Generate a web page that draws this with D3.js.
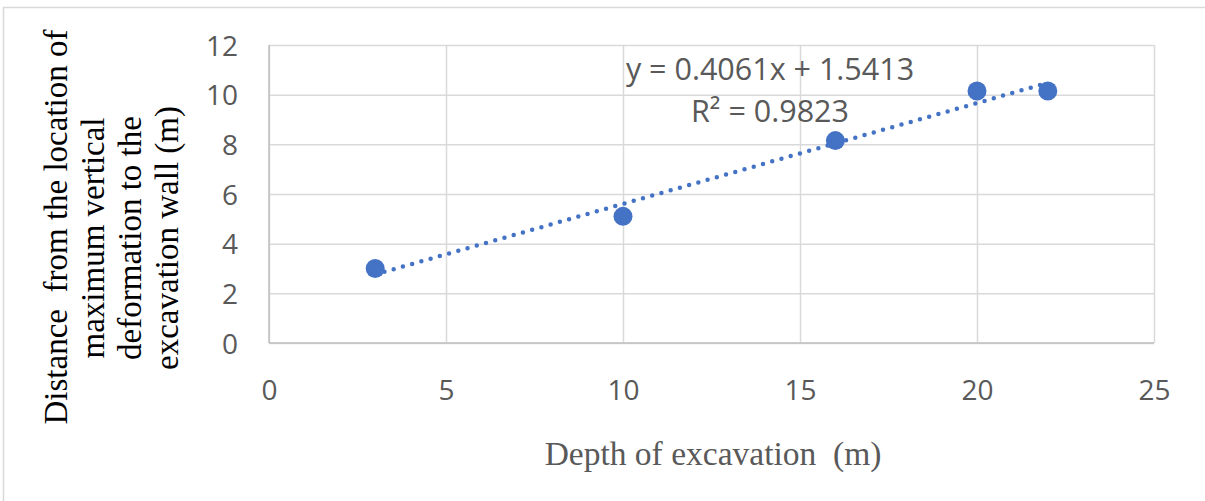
<!DOCTYPE html>
<html>
<head>
<meta charset="utf-8">
<script src="https://cdn.jsdelivr.net/npm/d3@7"></script>
<style>
  html, body { margin: 0; padding: 0; background: #fff; }
  svg { display: block; }
</style>
</head>
<body>
<svg id="chart" width="1205" height="501"></svg>
<script>
const depth = [3, 10, 16, 20, 22];
const distance = [3.0, 5.1, 8.15, 10.15, 10.15];
const xTicks = [0, 5, 10, 15, 20, 25];
const yTicks = [0, 2, 4, 6, 8, 10, 12];
const trendSlope = 0.4061;
const trendIntercept = 1.5413;
const eqLabel = "y = 0.4061x + 1.5413";
const r2Label = "R² = 0.9823";
const xTitle = "Depth of excavation  (m)";
const yTitleLines = ["Distance  from the location of", "maximum vertical", "deformation to the", "excavation wall (m)"];

const svg = d3.select("#chart");
const m = { left: 269, right: 1154, top: 45, bottom: 343 };

// chart border (top & left visible)
svg.append("rect").attr("x", 3.5).attr("y", 7.5).attr("width", 1400).attr("height", 800)
  .attr("fill", "none").attr("stroke", "#d9d9d9").attr("stroke-width", 1.5);

const x = d3.scaleLinear().domain([0, 25]).range([m.left, m.right]);
const y = d3.scaleLinear().domain([0, 12]).range([m.bottom, m.top]);

const tickFont = "'Open Sans', 'Liberation Sans', sans-serif";
const serif = "'Liberation Serif', 'Times New Roman', serif";

// gridlines
const gx = svg.append("g").attr("transform", `translate(0,${m.bottom})`)
  .call(d3.axisBottom(x).tickValues(xTicks).tickSize(-(m.bottom - m.top)).tickFormat(""));
gx.select(".domain").remove();
gx.selectAll("line").attr("stroke", "#d9d9d9").attr("stroke-width", 1.5);

const gy = svg.append("g").attr("transform", `translate(${m.left},0)`)
  .call(d3.axisLeft(y).tickValues(yTicks).tickSize(-(m.right - m.left)).tickFormat(""));
gy.select(".domain").remove();
gy.selectAll("line").attr("stroke", "#d9d9d9").attr("stroke-width", 1.5);

// axis lines
svg.append("line").attr("x1", m.left).attr("x2", m.left).attr("y1", m.top).attr("y2", m.bottom)
  .attr("stroke", "#bfbfbf").attr("stroke-width", 1.5);
svg.append("line").attr("x1", m.left).attr("x2", m.right).attr("y1", m.bottom).attr("y2", m.bottom)
  .attr("stroke", "#bfbfbf").attr("stroke-width", 1.5);

// tick labels
const xa = svg.append("g").attr("transform", `translate(0,${m.bottom})`)
  .call(d3.axisBottom(x).tickValues(xTicks).tickSize(0).tickPadding(0));
xa.select(".domain").remove();
xa.selectAll("text").attr("dy", null).attr("y", 57)
  .attr("font-family", tickFont).attr("font-size", 28).attr("fill", "#595959");

const ya = svg.append("g").attr("transform", `translate(${m.left},0)`)
  .call(d3.axisLeft(y).tickValues(yTicks).tickSize(0).tickPadding(31));
ya.select(".domain").remove();
ya.selectAll("text").attr("dy", "0.36em")
  .attr("font-family", tickFont).attr("font-size", 28).attr("fill", "#595959");

// trendline over data range
const tx = d3.extent(depth);
svg.append("line")
  .attr("x1", x(tx[0])).attr("y1", y(trendSlope * tx[0] + trendIntercept))
  .attr("x2", x(tx[1])).attr("y2", y(trendSlope * tx[1] + trendIntercept))
  .attr("stroke", "#4472C4").attr("stroke-width", 4.5)
  .attr("stroke-linecap", "round").attr("stroke-dasharray", "0 9.6");

// markers
svg.append("g").selectAll("circle").data(depth).join("circle")
  .attr("cx", d => x(d)).attr("cy", (d, i) => y(distance[i])).attr("r", 9.5)
  .attr("fill", "#4472C4");

// equation
svg.append("text").attr("x", 770).attr("y", 80).attr("text-anchor", "middle")
  .attr("font-family", tickFont).attr("font-size", 30.5).attr("fill", "#595959").text(eqLabel);
svg.append("text").attr("x", 770).attr("y", 122).attr("text-anchor", "middle")
  .attr("font-family", tickFont).attr("font-size", 30.5).attr("fill", "#595959").text(r2Label);

// x title
svg.append("text").attr("x", 713).attr("y", 465).attr("text-anchor", "middle")
  .attr("font-family", serif).attr("font-size", 33.5)
  .attr("fill", "#595959").style("white-space", "pre").text(xTitle);

// y title
const yt = svg.append("text").attr("transform", "translate(0,238) rotate(-90)")
  .attr("text-anchor", "middle")
  .attr("font-family", serif).attr("font-size", 33)
  .attr("fill", "#000").style("white-space", "pre");
yTitleLines.forEach((t, i) => {
  yt.append("tspan").attr("x", i === 0 ? 11 : 0).attr("y", 67 + i * 37).text(t);
});
</script>
</body>
</html>
